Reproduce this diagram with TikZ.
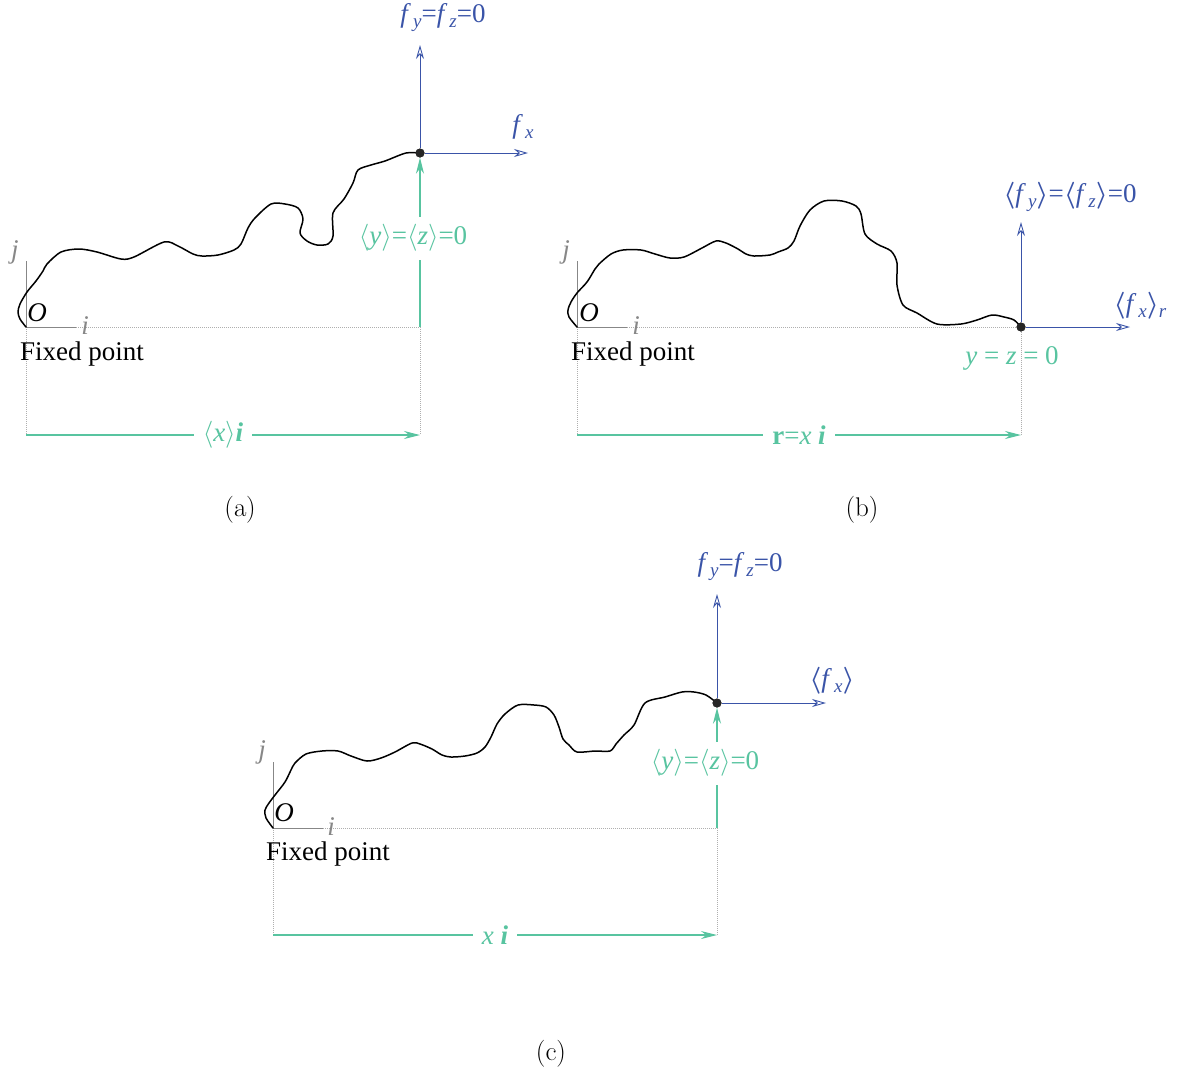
\documentclass[tikz,border=0pt]{standalone}
\usepackage{fix-cm}
\usepackage[no-math]{fontspec}
\setmainfont{Liberation Serif}
\usetikzlibrary{arrows.meta}
\definecolor{cblue}{RGB}{58,84,168}
\definecolor{cgreen}{RGB}{88,196,160}
\definecolor{cgray}{RGB}{135,135,135}
\definecolor{cguide}{RGB}{175,175,175}
\newcommand\lsub[1]{\raisebox{-0.4ex}{\fontsize{19}{19}\selectfont\textit{#1}}}
\newcommand\ff{\textit{f}\kern2pt}
\newcommand\blb{{\boldmath$\langle$}}
\newcommand\brb{{\boldmath$\rangle$}}
\begin{document}
\begin{tikzpicture}[x=1pt,y=-1pt,
  lab/.style={inner sep=0pt, font=\fontsize{27}{30}\selectfont},
  blab/.style={lab, text=cblue},
  glab/.style={lab, text=cgreen, fill=white, inner xsep=9pt, inner ysep=3pt},
  gtxt/.style={lab, text=cgreen},
  axlab/.style={lab, text=cgray},
  fixlab/.style={inner sep=0pt, anchor=west, font=\fontsize{27}{30}\selectfont},
  capt/.style={inner sep=0pt, font=\fontsize{27}{30}\selectfont},
  axis/.style={cgray, line width=0.9pt},
  guide/.style={cguide, line width=0.6pt, dash pattern=on 1pt off 1pt},
  force/.style={cblue, line width=0.9pt, -{Stealth[open, length=14pt, width=8pt]}},
  garrow/.style={cgreen, line width=1.1pt, -{Stealth[length=16pt, width=8pt]}},
  chain/.style={black, line width=1.5pt, line join=round, line cap=round},
  dotmark/.style={circle, fill=black!85, inner sep=0pt, minimum size=9pt}
]
\useasboundingbox (0,0) rectangle (1182,1074);

% ---------------- panel (a)
\coordinate (aO) at (26,327);
\coordinate (aJ) at (26,261);
\coordinate (aI) at (76,327);
\coordinate (aB) at (420,327);
\coordinate (aL) at (26,435);
\coordinate (aR) at (420,435);
\coordinate (aUp) at (420,45);
\coordinate (aX) at (528,153);
\draw[guide] (aI) -- (aB);
\draw[guide] (aO) -- (aL);
\draw[guide] (aB) -- (aR);
\draw[axis] (aJ) -- (aO) -- (aI);
\draw[chain] plot[smooth,tension=0.5] coordinates {(26,327) (20,319) (18,312) (20,304) (27,292) (36,281) (43,271) (47,264) (61,252) (79,249) (97,252) (121,259) (134,257) (164,242) (178,246) (193,254) (202,256) (218,255) (234,250) (241,244) (248,228) (255,218) (271,204) (285,204) (298,208) (303,219) (300,233) (307,241) (317,245) (328,244) (333,236) (333,213) (344,199) (353,183) (358,170) (371,165) (385,161) (406,153) (420,153)};
\node[dotmark] (aD) at (420,153) {};
\draw[garrow] (aB) -- (aD.south);
\node[dotmark] at (aD) {};
\draw[force] (aD) -- (aUp);
\draw[force] (aD) -- (aX);
\draw[garrow] (aL) -- node[glab] (aXI) {$\langle$\textit{x}$\rangle$\textbf{\textit{i}}} (aR);
\node[glab, inner xsep=2pt, inner ysep=8pt] (aYZ) at (413,238) {$\langle$\textit{y}$\rangle$=$\langle$\textit{z}$\rangle$=0};
\node[blab] (aFy) at (443,18) {\ff\lsub{y}=\ff\lsub{z}=0};
\node[blab] (aFx) at (523,127) {\ff\lsub{x}};
\node[axlab] (aj) at (15,252) {\textit{j}};
\node[lab] (aOl) at (37,313) {\textit{O}};
\node[axlab] (ai) at (85,326) {\textit{i}};
\node[fixlab] (aFix) at (20,354) {Fixed point};
\node[capt] (acap) at (240,510) {$(\mathrm{a})$};

% ---------------- panel (b)
\coordinate (bO) at (577,327);
\coordinate (bJ) at (577,261);
\coordinate (bI) at (627,327);
\coordinate (bL) at (577,435);
\coordinate (bR) at (1021,435);
\coordinate (bUp) at (1021,222);
\coordinate (bX) at (1130,327);
\node[dotmark] (bD) at (1021,327) {};
\draw[guide] (bI) -- (bD);
\draw[guide] (bO) -- (bL);
\draw[guide] (bD) -- (bR);
\draw[axis] (bJ) -- (bO) -- (bI);
\draw[chain] plot[smooth,tension=0.5] coordinates {(577,327) (569,317) (568,310) (571,302) (577,293) (587,282) (595,269) (599,264) (611,254) (623,250) (641,250) (655,254) (670,258) (684,257) (702,248) (716,241) (726,243) (738,249) (746,254) (754,256) (770,255) (778,252) (788,248) (794,241) (800,226) (810,210) (824,201) (842,201) (856,206) (861,214) (865,234) (877,244) (891,251) (897,263) (897,285) (903,305) (917,313) (937,324) (961,324) (977,320) (992,315) (1004,317) (1014,320) (1021,327)};
\node[dotmark] at (bD) {};
\draw[force] (bD) -- (bUp);
\draw[force] (bD) -- (bX);
\draw[garrow] (bL) -- node[glab] (bRX) {\textbf{r}=\textit{x} \textbf{\textit{i}}} (bR);
\node[gtxt] (bYZ) at (1012,358) {\textit{y} = \textit{z} = 0};
\node[blab] (bFy) at (1070,197) {\blb\ff\lsub{y}\brb=\blb\ff\lsub{z}\brb=0};
\node[blab] (bFx) at (1140,306) {\blb\ff\lsub{x}\brb\lsub{r}};
\node[axlab] (bj) at (566,252) {\textit{j}};
\node[lab] (bOl) at (589,313) {\textit{O}};
\node[axlab] (bi) at (636,326) {\textit{i}};
\node[fixlab] (bFix) at (571,354) {Fixed point};
\node[capt] (bcap) at (862,510) {$(\mathrm{b})$};

% ---------------- panel (c)
\coordinate (cO) at (273,828);
\coordinate (cJ) at (273,762);
\coordinate (cI) at (323,828);
\coordinate (cB) at (717,828);
\coordinate (cL) at (273,935);
\coordinate (cR) at (717,935);
\coordinate (cUp) at (717,594);
\coordinate (cX) at (826,703);
\draw[guide] (cI) -- (cB);
\draw[guide] (cO) -- (cL);
\draw[guide] (cB) -- (cR);
\draw[axis] (cJ) -- (cO) -- (cI);
\draw[chain] plot[smooth,tension=0.5] coordinates {(273,828) (266,818) (265,810) (269,803) (275,795) (285,782) (291,770) (295,763) (306,754) (322,751) (338,751) (351,756) (367,761) (381,758) (395,752) (412,743) (420,744) (432,749) (442,755) (451,757) (465,756) (477,753) (485,747) (491,737) (497,724) (505,714) (518,705) (534,705) (546,707) (554,715) (559,727) (563,739) (569,745) (577,752) (595,751) (610,751) (616,744) (624,735) (634,725) (645,703) (665,697) (682,692) (694,692) (706,695) (717,703)};
\node[dotmark] (cD) at (717,703) {};
\draw[garrow] (cB) -- (cD.south);
\node[dotmark] at (cD) {};
\draw[force] (cD) -- (cUp);
\draw[force] (cD) -- (cX);
\draw[garrow] (cL) -- node[glab] (cXI) {\textit{x} \textbf{\textit{i}}} (cR);
\node[glab, inner xsep=2pt, inner ysep=8pt] (cYZ) at (705,763) {$\langle$\textit{y}$\rangle$=$\langle$\textit{z}$\rangle$=0};
\node[blab] (cFy) at (740,567) {\ff\lsub{y}=\ff\lsub{z}=0};
\node[blab] (cFx) at (832,681) {\blb\ff\lsub{x}\brb};
\node[axlab] (cj) at (262,752) {\textit{j}};
\node[lab] (cOl) at (284,813) {\textit{O}};
\node[axlab] (ci) at (331,827) {\textit{i}};
\node[fixlab] (cFix) at (266,854) {Fixed point};
\node[capt] (ccap) at (551,1054) {$(\mathrm{c})$};
\end{tikzpicture}
\end{document}
